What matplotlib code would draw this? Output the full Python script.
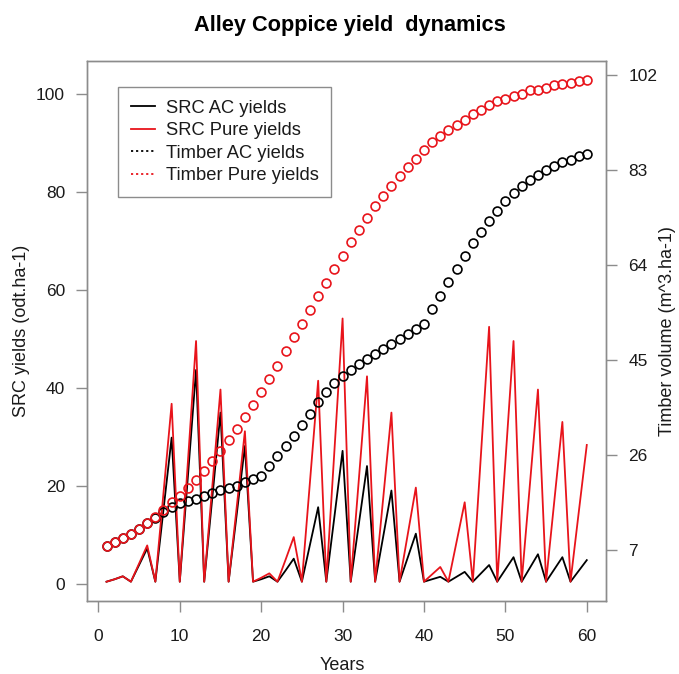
import matplotlib
matplotlib.use("Agg")
import matplotlib.pyplot as plt
from matplotlib.lines import Line2D

plt.rcParams['font.family'] = ['Liberation Sans', 'DejaVu Sans']

years = list(range(1, 61))

src_ac = [0.5, 1.0, 1.6, 0.5, 3.9, 7.3, 0.5, 15.2, 29.9, 0.5,
          22.0, 43.7, 0.5, 17.7, 35.0, 0.5, 14.3, 28.2, 0.5, 1.0,
          1.6, 0.5, 2.8, 5.2, 0.5, 8.1, 15.7, 0.5, 13.8, 27.2,
          0.5, 12.3, 24.1, 0.5, 9.8, 19.1, 0.5, 5.4, 10.3, 0.5,
          1.0, 1.5, 0.5, 1.5, 2.5, 0.5, 2.2, 3.9, 0.5, 3.0,
          5.5, 0.5, 3.3, 6.1, 0.5, 3.0, 5.5, 0.5, 2.7, 4.9]

src_pure = [0.5, 1.0, 1.6, 0.5, 4.2, 7.9, 0.5, 18.6, 36.8, 0.5,
            25.0, 49.6, 0.5, 20.0, 39.7, 0.5, 15.8, 31.2, 0.5, 1.3,
            2.2, 0.5, 5.0, 9.6, 0.5, 21.0, 41.5, 0.5, 27.3, 54.2,
            0.5, 21.4, 42.4, 0.5, 17.7, 35.0, 0.5, 10.1, 19.7, 0.5,
            2.0, 3.5, 0.5, 8.6, 16.7, 0.5, 26.5, 52.5, 0.5, 25.0,
            49.6, 0.5, 20.1, 39.7, 0.5, 16.8, 33.1, 0.5, 14.5, 28.4]

timber_ac = [7.8, 8.5, 9.3, 10.2, 11.1, 12.3, 13.4, 14.5, 15.5, 16.3,
             16.7, 17.1, 17.7, 18.3, 18.9, 19.3, 19.8, 20.5, 21.1, 21.8,
             23.7, 25.7, 27.8, 29.8, 32.0, 34.2, 36.5, 38.5, 40.3, 41.8,
             43.0, 44.2, 45.1, 46.1, 47.1, 48.2, 49.1, 50.1, 51.1, 52.2,
             55.2, 57.8, 60.5, 63.2, 65.7, 68.3, 70.5, 72.7, 74.8, 76.7,
             78.3, 79.7, 80.9, 82.0, 83.0, 83.8, 84.5, 85.1, 85.7, 86.2]

timber_pure = [7.8, 8.5, 9.3, 10.2, 11.1, 12.3, 13.5, 14.9, 16.5, 17.8,
               19.3, 21.0, 22.8, 24.7, 26.7, 28.9, 31.2, 33.5, 36.0, 38.5,
               41.1, 43.8, 46.7, 49.5, 52.2, 55.0, 57.8, 60.4, 63.2, 65.8,
               68.5, 70.9, 73.3, 75.7, 77.8, 79.8, 81.8, 83.5, 85.3, 87.0,
               88.5, 89.7, 91.0, 92.1, 93.1, 94.2, 95.1, 96.0, 96.7, 97.3,
               97.8, 98.3, 98.9, 99.1, 99.5, 99.9, 100.2, 100.5, 100.7, 100.9]

left_ticks = [0, 20, 40, 60, 80, 100]
right_ticks = [7, 26, 45, 64, 83, 102]
x_ticks = [0, 10, 20, 30, 40, 50, 60]

legend_labels = ["SRC AC yields", "SRC Pure yields", "Timber AC yields", "Timber Pure yields"]

W, H = 679, 674
fig = plt.figure(figsize=(W / 100, H / 100), dpi=100)
L, R, T, B = 87.3, 606.0, 60.7, 601.3
ax = fig.add_axes([L / W, 1 - B / H, (R - L) / W, (B - T) / H])
RED = '#e8141b'
GRAY = '#8c8c8c'

ax.plot(years, src_ac, color='black', lw=1.3, zorder=2)
ax.plot(years, src_pure, color=RED, lw=1.3, zorder=3)
ax.set_xlim(-1.36, 62.36)
ax.set_ylim(-3.5, 106.8)
ax.set_xticks(x_ticks)
ax.set_yticks(left_ticks)

ax2 = ax.twinx()
ax2.plot(years, timber_ac, ls='none', marker='o', ms=6.4, mfc='none',
         mec='black', mew=1.2)
ax2.plot(years, timber_pure, ls='none', marker='o', ms=6.4, mfc='none',
         mec=RED, mew=1.2)
ax2.set_ylim(-3.26, 104.86)
ax2.set_yticks(right_ticks)

for a in (ax, ax2):
    for s in a.spines.values():
        s.set_color(GRAY)
        s.set_linewidth(1.0)
    a.tick_params(colors=GRAY, length=8, width=1.0, labelsize=12.5,
                  labelcolor='#1a1a1a', pad=8)
ax.tick_params(axis='x', pad=12)

handles = [Line2D([], [], color='black', lw=1.3),
           Line2D([], [], color=RED, lw=1.3),
           Line2D([], [], color='black', lw=1.3, ls=(0, (1.2, 1.6))),
           Line2D([], [], color=RED, lw=1.3, ls=(0, (1.2, 1.6)))]
leg = ax2.legend(handles, legend_labels, loc='upper left',
                 bbox_to_anchor=((118 - L) / (R - L), 1 - (87 - T) / (B - T)),
                 borderaxespad=0, fancybox=False, framealpha=1,
                 fontsize=13.2, handlelength=1.3, handletextpad=0.6,
                 labelspacing=0.3, borderpad=0.7)
leg.get_frame().set_edgecolor(GRAY)
leg.get_frame().set_linewidth(1.0)
for t in leg.get_texts():
    t.set_color('#1a1a1a')

fig.text(350 / W, 1 - 25 / H, "Alley Coppice yield  dynamics", ha='center',
         va='center', fontsize=15.7, fontweight='bold')
fig.text(342 / W, 1 - 665 / H, "Years", ha='center', va='center',
         fontsize=13, color='#1a1a1a')
fig.text(22 / W, 1 - 331 / H, "SRC yields (odt.ha-1)", ha='center',
         va='center', rotation=90, fontsize=13, color='#1a1a1a')
fig.text(668 / W, 1 - 331 / H, "Timber volume (m^3.ha-1)", ha='center',
         va='center', rotation=90, fontsize=13, color='#1a1a1a')

fig.savefig("out.png", dpi=100)
